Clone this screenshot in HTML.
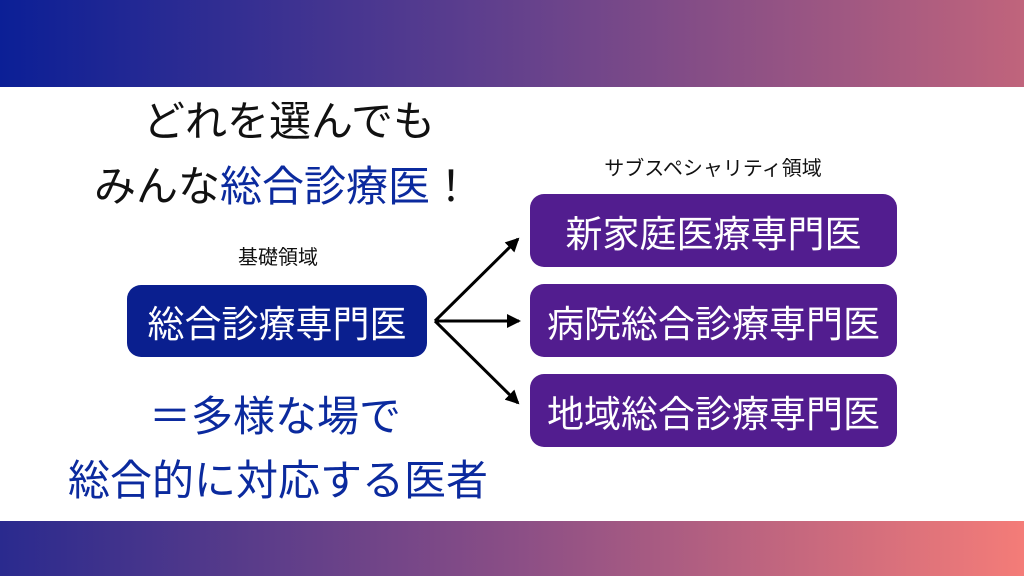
<!DOCTYPE html>
<html><head><meta charset="utf-8"><style>
*{margin:0;padding:0;box-sizing:border-box}
body{width:1024px;height:576px;position:relative;background:#fff;overflow:hidden;font-family:"Liberation Sans","Noto Sans CJK JP",sans-serif}
.band{position:absolute;left:0;width:1024px}
.top{top:0;height:87px;background:linear-gradient(90deg,#0b1f96 0%,#5a3d8e 45%,#c0647c 100%)}
.bot{top:521px;height:55px;background:linear-gradient(90deg,#2a2a8e 0%,#8a4e86 50%,#f47c78 100%)}
.t{position:absolute;white-space:nowrap;text-align:center}
.box{position:absolute;border-radius:14px;color:#fff;font-size:37px;display:flex;align-items:center;justify-content:center;white-space:nowrap}
.p{background:#521d8f;left:530px;width:367px;height:73px}
</style></head><body>
<div class="band top"></div>
<div class="band bot"></div>
<div class="t" style="left:39px;width:500px;top:88px;font-size:42px;color:#111">どれを選んでも</div>
<div class="t" style="left:33px;width:500px;top:153px;font-size:42px;color:#111">みんな<span style="color:#0b2a9e">総合診療医</span>！</div>
<div class="t" style="left:178px;width:200px;top:241px;font-size:20px;color:#111">基礎領域</div>
<div class="t" style="left:563px;width:300px;top:152px;font-size:20px;color:#111">サブスペシャリティ領域</div>
<div class="box" style="left:127px;top:285px;width:300px;height:72px;background:#0a1f8f">総合診療専門医</div>
<div class="box p" style="top:194px">新家庭医療専門医</div>
<div class="box p" style="top:284px">病院総合診療専門医</div>
<div class="box p" style="top:374px">地域総合診療専門医</div>
<div class="t" style="left:25px;width:500px;top:383px;font-size:42px;color:#0b2a9e">＝多様な場で</div>
<div class="t" style="left:28px;width:500px;top:447px;font-size:42px;color:#0b2a9e">総合的に対応する医者</div>
<svg style="position:absolute;left:0;top:0" width="1024" height="576">
<defs><marker id="b" markerWidth="14" markerHeight="14" refX="12" refY="7" orient="auto" markerUnits="userSpaceOnUse"><path d="M0,0 L14,7 L0,14z" fill="#000"/></marker></defs>
<g stroke="#000" stroke-width="3" fill="none">
<line x1="435" y1="321" x2="518" y2="239" marker-end="url(#b)"/>
<line x1="435" y1="321" x2="519" y2="321" marker-end="url(#b)"/>
<line x1="435" y1="321" x2="518" y2="403" marker-end="url(#b)"/>
</g></svg>
</body></html>
